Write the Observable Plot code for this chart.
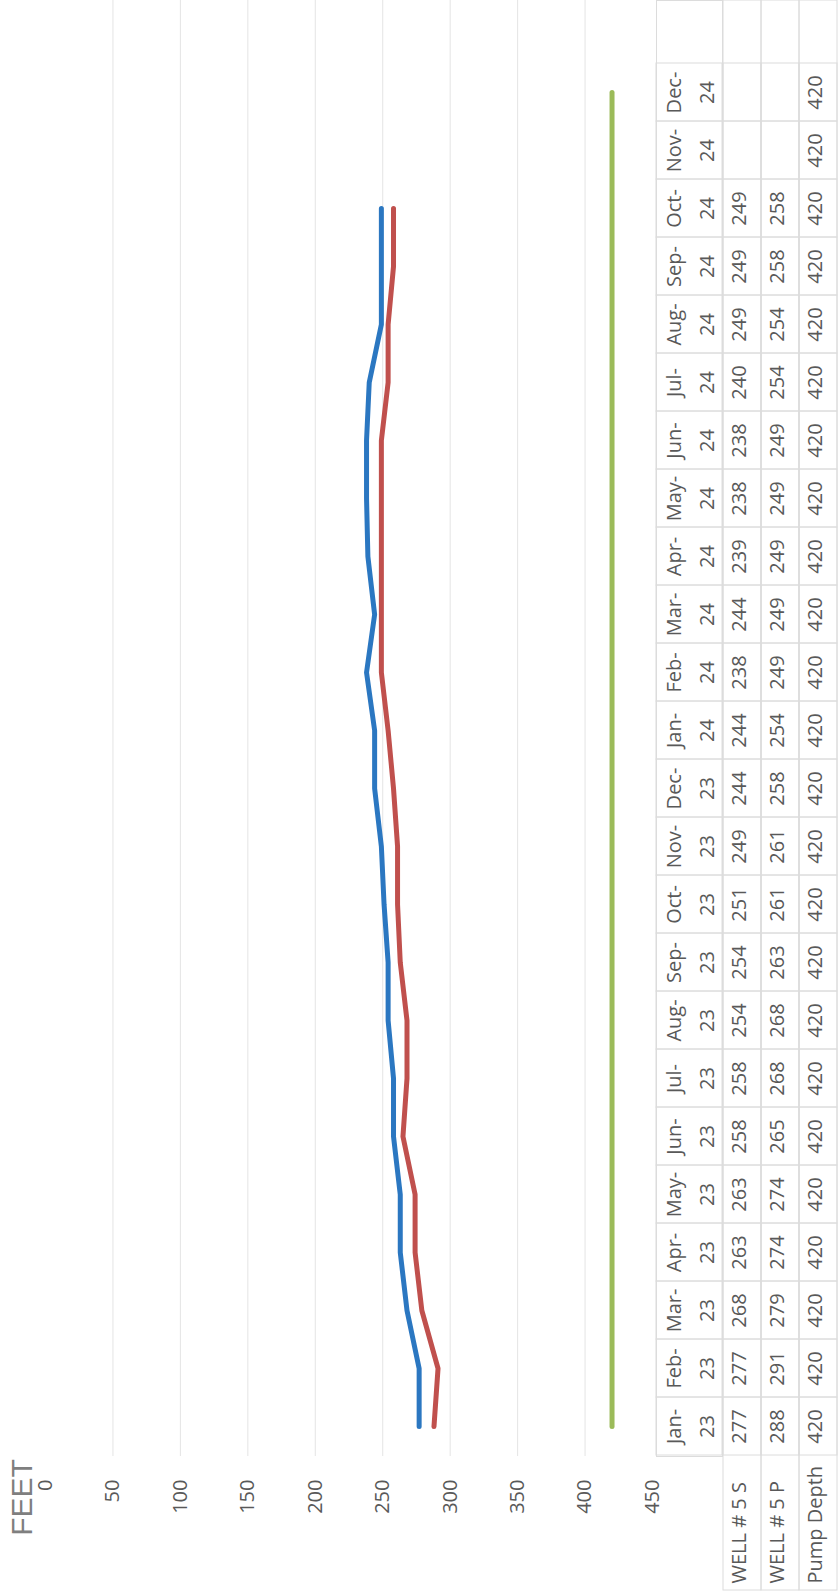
<!DOCTYPE html>
<html>
<head>
<meta charset="utf-8">
<script src="https://cdn.jsdelivr.net/npm/d3@7"></script>
<script src="https://cdn.jsdelivr.net/npm/@observablehq/plot@0.6"></script>
<style>
  body { margin: 0; background: #fff; }
  #wrap { position: relative; width: 840px; height: 1596px; overflow: hidden; background: #fff; }
  #wrap > svg { position: absolute; top: 0; }
</style>
</head>
<body>
<div id="wrap"></div>
<script>
// ---- data ----
const months = ["Jan-23","Feb-23","Mar-23","Apr-23","May-23","Jun-23","Jul-23","Aug-23","Sep-23","Oct-23","Nov-23","Dec-23",
                "Jan-24","Feb-24","Mar-24","Apr-24","May-24","Jun-24","Jul-24","Aug-24","Sep-24","Oct-24","Nov-24","Dec-24"];
const wellS = [277,277,268,263,263,258,258,254,254,251,249,244,244,238,244,239,238,238,240,249,249,249,null,null];
const wellP = [288,291,279,274,274,265,268,268,263,261,261,258,254,249,249,249,249,249,254,254,258,258,null,null];
const pumpDepth = [420,420,420,420,420,420,420,420,420,420,420,420,420,420,420,420,420,420,420,420,420,420,420,420];
const seriesNames = ["WELL # 5 S","WELL # 5 P","Pump Depth"];
const seriesColors = ["#2b77c1","#c0504d","#9bbb59"];
const tickValues = [0,50,100,150,200,250,300,350,400,450];
const gridValues = [50,100,150,200,250,300,350,400];
const axisTitle = "FEET";

// ---- derived tables ----
const seriesValues = [wellS, wellP, pumpDepth];
const cells = [];
seriesNames.forEach((s, k) => months.forEach((m, i) => cells.push({series: s, month: m, value: seriesValues[k][i]})));

const textColor = "#595959";
const border = "#dcdcdc";
const baseStyle = {fontFamily: "'Open Sans', sans-serif", fontSize: "20px", color: textColor, overflow: "visible"};
const yScale = () => ({type: "band", domain: months.slice().reverse(), range: [61, 1456], padding: 0, axis: null});

// ---- chart ----
const chart = Plot.plot({
  width: 656, height: 1596,
  marginLeft: 45, marginRight: 4, marginTop: 0, marginBottom: 140,
  style: {...baseStyle, background: "#fff"},
  x: {domain: [0, 450], axis: null},
  y: yScale(),
  marks: [
    Plot.ruleX(gridValues, {stroke: "#e4e4e4", strokeWidth: 1}),
    ...seriesNames.map((s, k) =>
      Plot.line(cells.filter(d => d.series === s && d.value != null), {
        x: "value", y: "month", stroke: seriesColors[k], strokeWidth: 5,
        strokeLinecap: "round", strokeLinejoin: "round"
      })),
    // x tick labels (rotated)
    Plot.text(tickValues, {x: d => d, text: d => String(d), frameAnchor: "bottom", rotate: -90,
      textAnchor: "end", lineAnchor: "middle", dy: 23, fill: textColor}),
    // axis title
    Plot.text([axisTitle], {frameAnchor: "bottom-left", rotate: -90, textAnchor: "middle", lineAnchor: "middle",
      dx: -23, dy: 41, fontSize: 30, fill: "#7f7f7f", fontFamily: "'Liberation Sans', sans-serif"})
  ]
});
chart.style.left = "0px";

// ---- table header column (months) ----
const hdr = Plot.plot({
  width: 68, height: 1596,
  marginLeft: 1, marginRight: 1, marginTop: 0, marginBottom: 140,
  style: {...baseStyle, background: "none"},
  y: yScale(),
  marks: [
    Plot.frame({stroke: border}),
    Plot.cell(months, {y: d => d, fill: "none", stroke: border}),
    Plot.text(months, {y: d => d, text: d => d.replace("-", "-\n"), rotate: -90, lineHeight: 1.65, dx: -3, fill: textColor})
  ]
});
hdr.style.left = "655px";

// ---- table value columns ----
const tbl = Plot.plot({
  width: 117, height: 1596,
  marginLeft: 1, marginRight: 1, marginTop: 0, marginBottom: 6,
  style: {...baseStyle, background: "none"},
  x: {type: "band", domain: seriesNames, padding: 0, axis: null},
  y: yScale(),
  marks: [
    Plot.cell(seriesNames, {x: d => d, fill: "none", stroke: border}),
    Plot.cell(cells, {x: "series", y: "month", fill: "none", stroke: border}),
    Plot.text(cells.filter(d => d.value != null), {x: "series", y: "month", text: d => String(d.value), rotate: -90, dx: -3, fill: textColor}),
    Plot.text(seriesNames, {x: d => d, text: d => d, frameAnchor: "bottom", rotate: -90, textAnchor: "start", lineAnchor: "middle", dx: -3, dy: -7, fill: textColor})
  ]
});
tbl.style.left = "721px";

const wrap = document.getElementById("wrap");
wrap.append(chart, hdr, tbl);
</script>
</body>
</html>
